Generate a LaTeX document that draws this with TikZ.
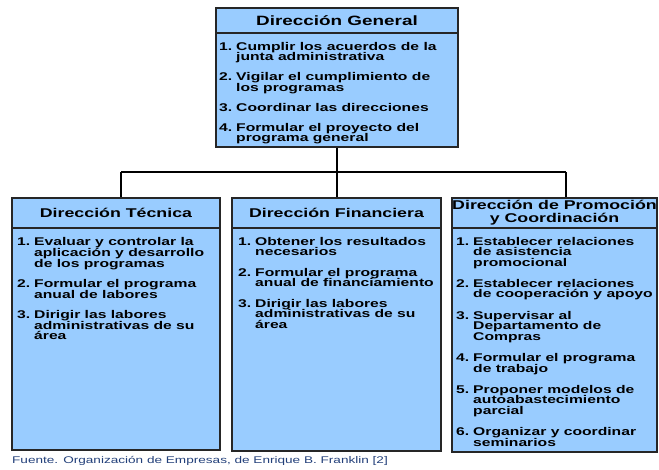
\documentclass[tikz,border=0pt]{standalone}
\usepackage{fontspec}
\setmainfont{Liberation Sans}[FakeStretch=1.4]
\definecolor{boxblue}{HTML}{99CCFF}
\definecolor{srcblue}{HTML}{23407A}
\newcommand\nm[1]{\makebox[17pt][l]{#1}}
\newcommand\ind{\hspace*{17pt}}
\tikzset{
  box/.style={draw=black!85, line width=1.4pt, fill=boxblue, rectangle, inner sep=0pt},
  hdr/.style={font=\bfseries\fontsize{12.7}{13}\selectfont, align=center, inner sep=0pt},
  toph/.style={font=\bfseries\fontsize{13.5}{14}\selectfont, align=center, inner sep=0pt},
  body/.style={font=\bfseries\fontsize{11.2}{10.5}\selectfont, align=left, anchor=north west, inner sep=0pt},
  sep/.style={line width=1.4pt, draw=black!85},
  wire/.style={line width=1.4pt, draw=black}
}
\begin{document}
\begin{tikzpicture}[x=1pt,y=-1pt]
\useasboundingbox (0,0) rectangle (659,469);
% boxes
\node[box, minimum width=242pt, minimum height=139pt] (dg) at (337,77.5) {};
\node[box, minimum width=208pt, minimum height=252pt] (dt) at (116,324) {};
\node[box, minimum width=209pt, minimum height=253pt] (df) at (336.5,324.5) {};
\node[box, minimum width=205pt, minimum height=254pt] (dp) at (554.5,325) {};
% header separators
\coordinate (hg) at (0,33);
\coordinate (hb) at (0,228);
\draw[sep] (dg.west |- hg) -- (dg.east |- hg);
\draw[sep] (dt.west |- hb) -- (dt.east |- hb);
\draw[sep] (df.west |- hb) -- (df.east |- hb);
\draw[sep] (dp.west |- hb) -- (dp.east |- hb);
% connectors
\coordinate (jl) at (121,172);
\coordinate (jr) at (566,172);
\coordinate (jm) at (dg.south |- jl);
\draw[wire] (dg.south) -- (jm);
\draw[wire] (jl) -- (jr);
\draw[wire] (jl) -- (jl |- dt.north);
\draw[wire] (jm) -- (jm |- df.north);
\draw[wire] (jr) -- (jr |- dp.north);
% headers
\node[toph] (tg) at (337,20.5) {Dirección General};
\node[hdr] (tt) at (116,213) {Dirección Técnica};
\node[hdr] (tf) at (336.5,213) {Dirección Financiera};
\node[hdr] (tp) at (554.5,213) {Dirección de Promoción\\y Coordinación};
% bodies
\node[body] (bg) at (219,41.8) {\nm{1.}Cumplir los acuerdos de la\\\ind junta administrativa\\[9.5pt]
\nm{2.}Vigilar el cumplimiento de\\\ind los programas\\[9.5pt]
\nm{3.}Coordinar las direcciones\\[9.5pt]
\nm{4.}Formular el proyecto del\\\ind programa general};
\node[body] (bt) at (17,236.8) {\nm{1.}Evaluar y controlar la\\\ind aplicación y desarrollo\\\ind de los programas\\[10pt]
\nm{2.}Formular el programa\\\ind anual de labores\\[10pt]
\nm{3.}Dirigir las labores\\\ind administrativas de su\\\ind área};
\node[body] (bf) at (238,236.8) {\nm{1.}Obtener los resultados\\\ind necesarios\\[10pt]
\nm{2.}Formular el programa\\\ind anual de financiamiento\\[10pt]
\nm{3.}Dirigir las labores\\\ind administrativas de su\\\ind área};
\node[body] (bp) at (456,236.8) {\nm{1.}Establecer relaciones\\\ind de asistencia\\\ind promocional\\[10.8pt]
\nm{2.}Establecer relaciones\\\ind de cooperación y apoyo\\[10.8pt]
\nm{3.}Supervisar al\\\ind Departamento de\\\ind Compras\\[10.8pt]
\nm{4.}Formular el programa\\\ind de trabajo\\[10.8pt]
\nm{5.}Proponer modelos de\\\ind autoabastecimiento\\\ind parcial\\[10.8pt]
\nm{6.}Organizar y coordinar\\\ind seminarios};
% source
\node[anchor=base west, inner sep=0pt, text=srcblue, font=\fontsize{9.7}{10}\selectfont] (src) at (12,463) {Fuente. Organización de Empresas, de Enrique B. Franklin [2]};
\end{tikzpicture}
\end{document}
